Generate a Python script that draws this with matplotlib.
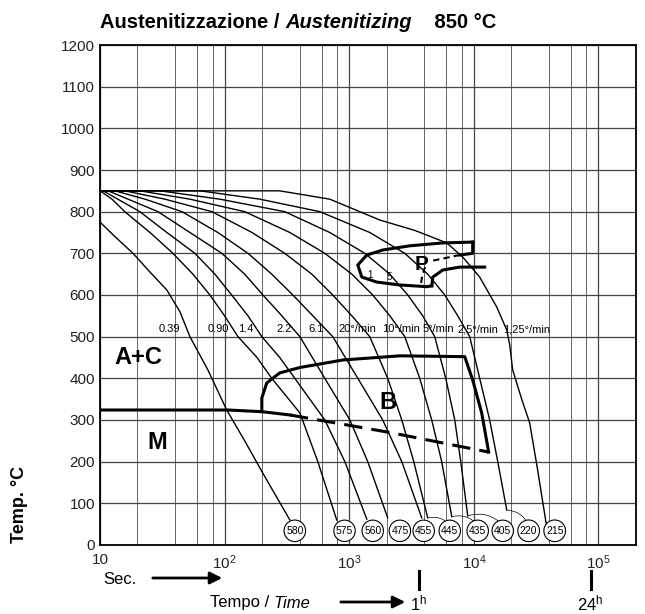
import numpy as np
import matplotlib.pyplot as plt
from matplotlib import transforms

plt.rcParams['font.family'] = ['Liberation Sans', 'DejaVu Sans']
plt.rcParams['mathtext.fontset'] = 'custom'
plt.rcParams['mathtext.rm'] = 'Liberation Sans'
plt.rcParams['mathtext.it'] = 'Liberation Sans:italic'

# cooling curves: time [s], temperature [C]
T13 = [850, 830, 800, 750, 700, 650, 600, 550, 500, 400, 300, 200]
curve_t = [
    [10, 13.2, 18.4, 25.2, 34.4, 43.8, 52.7, 73.5, 104, 145, 203, 334],
    [10, 10, 12.5, 15.8, 25.2, 38.5, 55.7, 76.2, 100, 128, 182, 239, 402, 560, 794],
    [10, 10.6, 13.9, 20.9, 34.4, 57.8, 83.6, 114, 154, 199, 277, 366, 637, 923, 1384],
    [10, 11.6, 16.8, 29.2, 52.7, 95.1, 145, 203, 288, 402, 637, 1012, 1409, 2037],
    [10, 13.2, 23.0, 45.5, 88.3, 154, 239, 353, 511, 738, 1172, 1858, 2642, 3819],
    [10, 15.8, 33.2, 79.1, 166, 304, 501, 738, 1050, 1462, 2037, 2642, 3296, 4266],
    [10, 20.9, 52.7, 145, 334, 637, 1050, 1545, 2118, 2793, 3681, 4592, 5521, 6651],
    [10, 30.3, 91.6, 304, 698, 1334, 2118, 2951, 3890, 4853, 5953, 7031, 7852, 8933],
    [10, 63.4, 192, 581, 1462, 2793, 4266, 5848, 7430, 9268, 11140, 13400, 15560, 18370],
    [10, 277, 698, 1758, 3357, 6067, 8147, 11140, 15280, 18370, 19410, 20510, 24210,
     28060, 32520, 38460],
]
curve_T = [
    [775, 740, 700, 655, 612, 560, 500, 420, 324, 250, 172, 60],
    [850, 850, 830, 800, 750, 700, 650, 600, 550, 500, 450, 400, 317, 200, 60],
    [850, 850, 830, 800, 750, 700, 650, 600, 550, 500, 450, 400, 300, 200, 62],
    [850] + T13 + [65],
    [850] + T13 + [65],
    [850] + T13 + [65],
    [850] + T13 + [68],
    [850] + T13 + [70],
    [850] + T13 + [84],
    [850, 850, 830, 780, 755, 725, 691, 643, 571, 516, 480, 420, 350, 293, 180, 43],
]

# cooling rate labels
rate_labels = ['0.39', '0.90', '1.4', '2.2', '6.1', '20°/min', '10°/min',
               '5°/min', '2,5°/min', '1,25°/min']
rate_t = [35.8, 88.3, 148, 299, 539, 1167, 2600, 5240, 10790, 26300]

# hardness HV at the end of each curve
hardness = ['580', '575', '560', '475', '455', '445', '435', '405', '220', '215']
hard_t = [366, 917, 1545, 2550, 3960, 6410, 10740, 17060, 27540, 44560]

# Ms line (solid + dashed part)
ms_t = [10, 106, 199, 335]
ms_T = [324, 324, 320, 312]
ms_dash_t = [335, 2120, 13150]
ms_dash_T = [312, 270, 223]

# bainite field
bain_t = [199, 199, 218, 277, 402, 889, 2550, 8450, 9790, 11560, 13150]
bain_T = [320, 353, 389, 413, 426, 444, 454, 452, 396, 317, 223]

# pearlite nose
pear_t = [9790, 5640, 3060, 1860, 1384, 1172, 1262, 1665, 2550, 4190, 4600]
pear_T = [727, 725, 718, 708, 696, 672, 643, 631, 624, 620, 622]
pear2_t = [4600, 4680, 5640, 7710, 12220]
pear2_T = [622, 643, 660, 667, 667]
pear3_t = [9790, 9790, 7710]
pear3_T = [727, 700, 696]
pear4_t = [7710, 4600]
pear4_T = [696, 682]
pear5_t = [3770, 3870, 4060]
pear5_T = [629, 648, 667]

fig = plt.figure(figsize=(6.45, 6.14), dpi=100)
ax = fig.add_axes([0.155, 0.1124, 0.831, 0.8143])
ax.set_xscale('log')
ax.set_xlim(10, 2e5)
ax.set_ylim(0, 1200)

ax.set_yticks(np.arange(0, 1201, 100))
ax.set_xticks([10, 100, 1000, 10000, 100000])
ax.set_xticklabels(['10', r'$10^{2}$', r'$10^{3}$', r'$10^{4}$', r'$10^{5}$'])
minor = [m * 10 ** d for d in range(1, 6) for m in (2, 4, 6, 8)]
ax.set_xticks([m for m in minor if m < 2e5], minor=True)
ax.xaxis.set_minor_formatter(plt.NullFormatter())
ax.tick_params(axis='both', which='both', length=0, labelsize=11, colors='#222222')
ax.tick_params(axis='x', pad=6)
ax.grid(True, which='major', color='#444444', lw=0.9)
ax.grid(True, which='minor', axis='x', color='#666666', lw=0.7)
for s in ax.spines.values():
    s.set_linewidth(1.3)

for t, T in zip(curve_t, curve_T):
    ax.plot(t, T, color='black', lw=1.0)

ax.plot(ms_t, ms_T, color='black', lw=2.2)
ax.plot(ms_dash_t, ms_dash_T, color='black', lw=2.2, dashes=(6, 3))
ax.plot(bain_t, bain_T, color='black', lw=2.2)
ax.plot(pear_t, pear_T, color='black', lw=2.2)
ax.plot(pear2_t, pear2_T, color='black', lw=2.2)
ax.plot(pear3_t, pear3_T, color='black', lw=2.2)
ax.plot(pear4_t, pear4_T, color='black', lw=1.5, dashes=(3, 2))
ax.plot(pear5_t, pear5_T, color='black', lw=1.5, dashes=(3, 2))

for lab, t in zip(rate_labels, rate_t):
    ax.text(t, 518, lab, ha='center', va='center', fontsize=8)

# small leader arcs from curve ends to the shifted circles
for k in [5, 6, 7, 8]:
    ax.annotate('', xy=(hard_t[k], 48), xytext=(curve_t[k][-1], curve_T[k][-1]),
                arrowprops=dict(arrowstyle='-', lw=0.5, color='black',
                                connectionstyle='arc3,rad=-0.3', shrinkA=0, shrinkB=0))

for lab, t in zip(hardness, hard_t):
    ax.text(t, 34, lab, ha='center', va='center', fontsize=7.5,
            bbox=dict(boxstyle='circle,pad=0.2', fc='white', ec='black', lw=0.8))

ax.text(1462, 648, '1', fontsize=7, ha='center', va='center')
ax.text(2080, 643, '5', fontsize=7, ha='center', va='center')

ax.text(20.2, 451, 'A+C', fontsize=17, fontweight='bold', ha='center', va='center')
ax.text(28.7, 245, 'M', fontsize=17, fontweight='bold', ha='center', va='center')
ax.text(2040, 343, 'B', fontsize=17, fontweight='bold', ha='center', va='center')
ax.text(3820, 672, 'P', fontsize=15, fontweight='bold', ha='center', va='center')

# title
t1 = fig.text(100 / 645, 1 - 28 / 614, 'Austenitizzazione / ', fontsize=14.5,
              fontweight='bold', ha='left', va='baseline')
t2 = ax.annotate('Austenitizing', xy=(1, 0), xycoords=t1, fontsize=14.5,
                 fontweight='bold', style='italic', va='bottom')
ax.annotate('    850 °C', xy=(1, 0), xycoords=t2, fontsize=14.5,
            fontweight='bold', va='bottom')

fig.text(20 / 645, 1 - 504 / 614, 'Temp. °C', rotation=90, fontsize=13,
         fontweight='bold', ha='center', va='center')

# time axis annotations below the plot
bt = transforms.blended_transform_factory(ax.transData, fig.transFigure)
fy = lambda py: 1 - py / 614
fig.text(103 / 645, fy(580), 'Sec.', fontsize=12, ha='left', va='center')
ax.annotate('', xy=(225 / 645, fy(578)), xytext=(150 / 645, fy(578)),
            xycoords='figure fraction',
            arrowprops=dict(arrowstyle='-|>', color='black', lw=2, mutation_scale=18))
fig.text(210 / 645, fy(603), 'Tempo / ', fontsize=12, ha='left', va='center')
ax.annotate('Time', xy=(1, 0), xycoords=fig.texts[-1], fontsize=12,
            style='italic', va='bottom')
ax.annotate('', xy=(408 / 645, fy(602)), xytext=(338 / 645, fy(602)),
            xycoords='figure fraction',
            arrowprops=dict(arrowstyle='-|>', color='black', lw=2, mutation_scale=18))
for tt, lab in [(3600, r'1$^{\rm h}$'), (86400, r'24$^{\rm h}$')]:
    ax.plot([tt, tt], [fy(571), fy(589)], color='black', lw=2.2,
            transform=bt, clip_on=False)
    ax.text(tt, fy(603), lab, transform=bt, fontsize=12, ha='center', va='center')

fig.savefig('out.png', dpi=100)
